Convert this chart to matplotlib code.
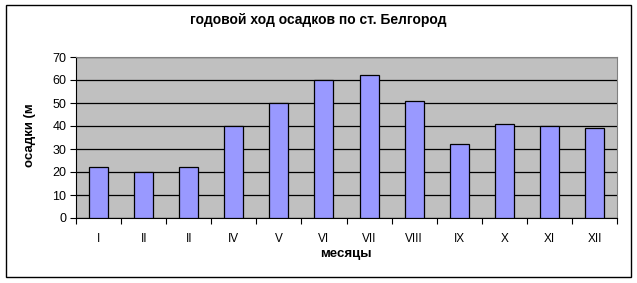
import matplotlib
matplotlib.use("Agg")
import matplotlib.pyplot as plt
from matplotlib.patches import Rectangle
import numpy as np

plt.rcParams['font.family'] = ['Liberation Sans', 'DejaVu Sans']

months = ["I", "II", "II", "IV", "V", "VI", "VII", "VIII", "IX", "X", "XI", "XII"]
precip = [22, 20, 22, 40, 50, 60, 62, 51, 32, 41, 40, 39]
yticks = [0, 10, 20, 30, 40, 50, 60, 70]

fig = plt.figure(figsize=(6.37, 2.83), dpi=100)
fig.patch.set_facecolor("white")
fig.add_artist(Rectangle((6/637, 1-277/283), 625/637, 272/283, transform=fig.transFigure,
                         fill=False, edgecolor="black", linewidth=1.0))

ax = fig.add_axes([76/637, 1-218/283, 541/637, 161/283])
ax.set_facecolor("#C0C0C0")
x = np.arange(len(months))
ax.bar(x, precip, width=0.42, color="#9999FF", edgecolor="black", linewidth=0.9, zorder=3)
ax.set_xlim(-0.5, len(months)-0.5)
ax.set_ylim(0, 70)
ax.set_yticks(yticks)
ax.yaxis.grid(True, color="black", linewidth=0.9, zorder=1)
ax.set_axisbelow(True)
ax.set_xticks(np.arange(-0.5, len(months)), minor=False)
ax.set_xticklabels([])
ax.set_xticks(x, minor=True)
ax.set_xticklabels(months, minor=True)
ax.tick_params(axis='x', which='minor', length=0, pad=11, labelsize=8.5)
ax.tick_params(axis='x', which='major', length=4, width=0.8)
ax.tick_params(axis='y', length=4, width=0.8, labelsize=9, pad=3)
for s in ["top", "right"]:
    ax.spines[s].set_color("#808080")
ax.spines["left"].set_color("black")
ax.spines["bottom"].set_color("black")

fig.text(318/637, 1-20/283, "годовой ход осадков по ст. Белгород", ha="center", va="center",
         fontsize=10, fontweight="bold")
fig.text(346/637, 1-254/283, "месяцы", ha="center", va="center", fontsize=9.5, fontweight="bold")
fig.text(30/637, 1-135/283, "осадки (м", ha="center", va="center", rotation=90,
         fontsize=9.5, fontweight="bold")

fig.savefig("out.png", dpi=100)
